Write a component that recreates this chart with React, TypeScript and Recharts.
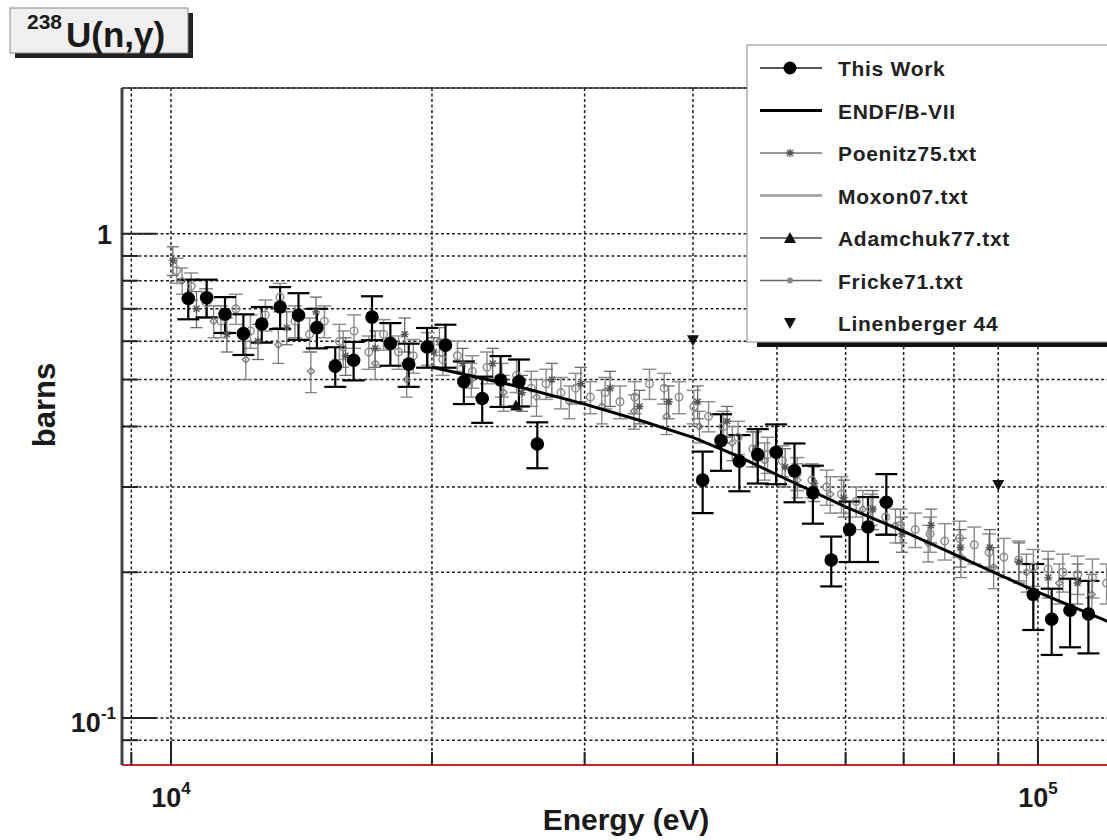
import React from 'react';
import { ScatterChart, Scatter, XAxis, YAxis, CartesianGrid, ErrorBar, ReferenceLine } from 'recharts';

const FONT = '"Liberation Sans", Arial, Helvetica, sans-serif';

const X_TICKS = [9000, 10000, 20000, 30000, 40000, 50000, 60000, 70000, 80000, 90000, 100000];
const Y_TICKS = [0.09, 0.1, 0.2, 0.3, 0.4, 0.5, 0.6, 0.7, 0.8, 0.9, 1];
const X_DOMAIN = [8780, 127700];
const Y_DOMAIN = [0.08, 2];

// This Work
const thisWorkE = [10470, 10994, 11543, 12120, 12726, 13363, 14031, 14733, 15469, 16243, 17055, 17908, 18803, 19743, 20730, 21767, 22855, 23998, 25198, 26458,
  41044, 43096, 45251, 47514, 49889, 52384, 55003, 57753, 60641, 63673, 66856,
  98778, 103717, 108903, 114348];
const thisWorkV = [0.735, 0.738, 0.682, 0.622, 0.651, 0.706, 0.679, 0.64, 0.533, 0.548, 0.673, 0.594, 0.538, 0.584, 0.589, 0.495, 0.457, 0.499, 0.495, 0.368,
  0.31, 0.374, 0.339, 0.35, 0.354, 0.324, 0.292, 0.212, 0.245, 0.248, 0.279,
  0.18, 0.16, 0.167, 0.164];
const thisWorkErr = [0.069, 0.066, 0.058, 0.06, 0.055, 0.07, 0.075, 0.06, 0.05, 0.05, 0.07, 0.06, 0.055, 0.055, 0.06, 0.05, 0.05, 0.06, 0.055, 0.04,
  0.045, 0.05, 0.045, 0.045, 0.05, 0.045, 0.04, 0.025, 0.035, 0.038, 0.04,
  0.028, 0.025, 0.027, 0.028];

// ENDF/B-VII
const endfE = [20000, 25000, 30000, 35000, 40000, 45000, 50000, 60000, 70000, 80000, 90000, 100000, 127000];
const endfV = [0.53, 0.485, 0.445, 0.41, 0.38, 0.348, 0.318, 0.273, 0.243, 0.218, 0.198, 0.182, 0.152];

// Poenitz75
const poenitzE = [10050, 10700, 11600, 12600, 13600, 14700, 15900, 17200, 18600, 20100, 21700, 23500, 25400, 27500, 29700, 32100, 34700, 37500, 40500, 43800, 47300, 51100, 55200, 59700, 64500, 69700, 75300, 81400, 88000, 95100, 102800, 111100];
const poenitzV = [0.88, 0.7, 0.62, 0.6, 0.64, 0.69, 0.56, 0.58, 0.62, 0.57, 0.54, 0.54, 0.47, 0.5, 0.49, 0.48, 0.44, 0.45, 0.45, 0.41, 0.36, 0.33, 0.305, 0.285, 0.27, 0.24, 0.25, 0.225, 0.225, 0.21, 0.195, 0.19];
const poenitzErr = [0.06, 0.06, 0.05, 0.05, 0.05, 0.05, 0.05, 0.05, 0.05, 0.04, 0.04, 0.04, 0.04, 0.04, 0.04, 0.04, 0.035, 0.035, 0.035, 0.03, 0.03, 0.03, 0.025, 0.025, 0.025, 0.02, 0.02, 0.02, 0.02, 0.02, 0.018, 0.018];

// Moxon07
const moxonE = [10150, 10550, 10980, 11420, 11880, 12350, 12850, 13360, 13900, 14450, 15030, 15640, 16260, 16910, 17590, 18300, 19030, 19790, 20580, 21400, 22260, 23150, 24080, 25040, 26040, 27080, 28170, 29290, 30460, 31680, 32950, 34270, 35640, 37060, 38550, 40090, 41690, 43360, 45090, 46900, 48770, 50720, 52750, 54860, 57050, 59340, 61710, 64180, 66740, 69410, 72190, 75080, 78080, 81200, 84450, 87830, 91340, 94990, 98790, 102740, 106850, 111130, 115570, 120000];
const moxonV = [0.84, 0.78, 0.72, 0.66, 0.7, 0.63, 0.68, 0.74, 0.66, 0.62, 0.66, 0.6, 0.63, 0.57, 0.62, 0.57, 0.56, 0.58, 0.55, 0.56, 0.52, 0.53, 0.5, 0.51, 0.48, 0.49, 0.47, 0.48, 0.46, 0.47, 0.45, 0.46, 0.49, 0.48, 0.46, 0.44, 0.42, 0.4, 0.38, 0.36, 0.35, 0.34, 0.32, 0.31, 0.3, 0.29, 0.28, 0.27, 0.26, 0.25, 0.245, 0.24, 0.232, 0.235, 0.228, 0.22, 0.215, 0.212, 0.205, 0.203, 0.2, 0.198, 0.195, 0.19];
const moxonErr = [0.05, 0.05, 0.05, 0.05, 0.05, 0.05, 0.05, 0.05, 0.05, 0.05, 0.05, 0.05, 0.05, 0.045, 0.045, 0.045, 0.045, 0.045, 0.04, 0.04, 0.04, 0.04, 0.04, 0.04, 0.04, 0.035, 0.035, 0.035, 0.035, 0.035, 0.035, 0.035, 0.035, 0.035, 0.035, 0.035, 0.03, 0.03, 0.03, 0.03, 0.03, 0.025, 0.025, 0.025, 0.025, 0.025, 0.02, 0.02, 0.02, 0.02, 0.02, 0.02, 0.02, 0.02, 0.02, 0.02, 0.02, 0.02, 0.018, 0.018, 0.018, 0.018, 0.018, 0.018];

// Fricke71
const frickeE = [10300, 11200, 12200, 13300, 14500, 15800, 17200, 18700, 20400, 22200, 24200, 26400, 28800, 31400, 34200, 37300, 40700, 44400, 48400, 52800, 57600, 62800, 68500, 74700, 81500, 88900, 97000, 105800, 115400];
const frickeV = [0.8, 0.66, 0.55, 0.59, 0.52, 0.58, 0.54, 0.5, 0.6, 0.5, 0.47, 0.46, 0.45, 0.44, 0.43, 0.42, 0.4, 0.37, 0.34, 0.31, 0.29, 0.27, 0.25, 0.23, 0.215, 0.205, 0.2, 0.19, 0.18];
const frickeErr = [0.05, 0.05, 0.05, 0.05, 0.05, 0.05, 0.04, 0.04, 0.04, 0.04, 0.04, 0.04, 0.035, 0.035, 0.035, 0.035, 0.03, 0.03, 0.03, 0.025, 0.025, 0.025, 0.02, 0.02, 0.02, 0.02, 0.018, 0.018, 0.018];

// Adamchuk77
const adamchukE = [25000];
const adamchukV = [0.44];

// Linenberger 44
const linenbergerE = [40000, 90000];
const linenbergerV = [0.603, 0.303];

const legendLabels = ['This Work', 'ENDF/B-VII', 'Poenitz75.txt', 'Moxon07.txt', 'Adamchuk77.txt', 'Fricke71.txt', 'Linenberger 44'];

const build = (e: number[], v: number[], err?: number[]) =>
  e.map((x, i) => ({ e: x, v: v[i], err: err ? err[i] : 0 }));

const thisWork = build(thisWorkE, thisWorkV, thisWorkErr);
const endf = build(endfE, endfV);
const poenitz = build(poenitzE, poenitzV, poenitzErr);
const moxon = build(moxonE, moxonV, moxonErr);
const fricke = build(frickeE, frickeV, frickeErr);
const adamchuk = build(adamchukE, adamchukV);
const linenberger = build(linenbergerE, linenbergerV);

const BlackDot = (p: any) => <circle cx={p.cx} cy={p.cy} r={6.8} fill="#000" />;
const OpenDot = (p: any) => <circle cx={p.cx} cy={p.cy} r={3.8} fill="none" stroke="#8a8a8a" strokeWidth={1.4} />;
const Star = (p: any) => {
  const { cx, cy } = p;
  return <path d={`M${cx - 4},${cy}H${cx + 4}M${cx},${cy - 4}V${cy + 4}M${cx - 3},${cy - 3}L${cx + 3},${cy + 3}M${cx - 3},${cy + 3}L${cx + 3},${cy - 3}`} stroke="#555" strokeWidth={1.4} fill="none" />;
};
const SmallDiamond = (p: any) => {
  const { cx, cy } = p;
  return <path d={`M${cx},${cy - 3.5}L${cx + 3.5},${cy}L${cx},${cy + 3.5}L${cx - 3.5},${cy}Z`} fill="none" stroke="#7a7a7a" strokeWidth={1.3} />;
};
const TriUp = (p: any) => {
  const { cx, cy } = p;
  return <path d={`M${cx},${cy - 7}L${cx + 6},${cy + 4}L${cx - 6},${cy + 4}Z`} fill="#111" />;
};
const TriDown = (p: any) => {
  const { cx, cy } = p;
  return <path d={`M${cx - 6},${cy - 5}L${cx + 6},${cy - 5}L${cx},${cy + 6}Z`} fill="#111" />;
};
const NoShape = () => <g />;

const XTick = (props: any) => {
  const { x, y, payload } = props;
  const val = payload.value;
  const major = val === 10000 || val === 100000;
  const exp = Math.round(Math.log10(val));
  return (
    <g>
      <line x1={x} x2={x} y1={y} y2={y - (major ? 24 : 13)} stroke="#222" strokeWidth={2} />
      {major && (
        <text x={x} y={y + 42} textAnchor="middle" fontFamily={FONT} fontWeight={700} fontSize={27} fill="#1a1a1a">
          10<tspan dy={-13} fontSize={17}>{exp}</tspan>
        </text>
      )}
    </g>
  );
};

const YTick = (props: any) => {
  const { x, y, payload } = props;
  const val = payload.value;
  const major = val === 1 || val === 0.1;
  return (
    <g>
      <line x1={x} x2={x + (major ? 34 : 16)} y1={y} y2={y} stroke="#222" strokeWidth={2} />
      {val === 1 && (
        <text x={x - 10} y={y + 10} textAnchor="end" fontFamily={FONT} fontWeight={700} fontSize={27} fill="#1a1a1a">1</text>
      )}
      {val === 0.1 && (
        <text x={x - 6} y={y + 14} textAnchor="end" fontFamily={FONT} fontWeight={700} fontSize={27} fill="#1a1a1a">
          10<tspan dy={-13} fontSize={17}>-1</tspan>
        </text>
      )}
    </g>
  );
};

const LegendSymbol = ({ i }: { i: number }) => {
  const cy = 0;
  switch (i) {
    case 0:
      return (<g><line x1={13} x2={75} y1={cy} y2={cy} stroke="#555" strokeWidth={2} /><circle cx={43} cy={cy} r={6.5} fill="#000" /></g>);
    case 1:
      return <line x1={13} x2={75} y1={cy} y2={cy} stroke="#000" strokeWidth={3} />;
    case 2:
      return (<g><line x1={13} x2={75} y1={cy} y2={cy} stroke="#333" strokeWidth={1.2} /><Star cx={43} cy={cy} /></g>);
    case 3:
      return <line x1={13} x2={75} y1={cy} y2={cy} stroke="#aaa" strokeWidth={3} />;
    case 4:
      return (<g><line x1={13} x2={75} y1={cy} y2={cy} stroke="#777" strokeWidth={2} /><TriUp cx={43} cy={cy + 1} /></g>);
    case 5:
      return (<g><line x1={13} x2={75} y1={cy} y2={cy} stroke="#666" strokeWidth={1.4} /><circle cx={43} cy={cy} r={3} fill="#888" /></g>);
    default:
      return <TriDown cx={43} cy={cy} />;
  }
};

export default function App() {
  return (
    <div style={{ position: 'absolute', left: 0, top: 0, width: 1107, height: 840, overflow: 'hidden', background: '#fff' }}>
      <ScatterChart width={1130} height={840} margin={{ top: 88, right: 0, bottom: 0, left: 0 }}>
        <CartesianGrid stroke="#1e1e1e" strokeWidth={1.5} strokeDasharray="3 2.5" />
        <XAxis
          type="number"
          dataKey="e"
          scale="log"
          domain={X_DOMAIN}
          allowDataOverflow
          ticks={X_TICKS}
          interval={0}
          height={75}
          tickSize={0}
          tickMargin={0}
          tick={<XTick />}
          axisLine={{ stroke: '#c62828', strokeWidth: 2 }}
        />
        <YAxis
          type="number"
          dataKey="v"
          scale="log"
          domain={Y_DOMAIN}
          allowDataOverflow
          ticks={Y_TICKS}
          interval={0}
          width={122}
          tickSize={0}
          tickMargin={0}
          tick={<YTick />}
          axisLine={{ stroke: '#444', strokeWidth: 3 }}
        />
        <ReferenceLine y={2} stroke="#333" strokeWidth={1.5} />
        <Scatter data={moxon} shape={OpenDot} isAnimationActive={false}>
          <ErrorBar dataKey="err" direction="y" width={7} stroke="#8f8f8f" strokeWidth={1.5} />
        </Scatter>
        <Scatter data={fricke} shape={SmallDiamond} isAnimationActive={false}>
          <ErrorBar dataKey="err" direction="y" width={6} stroke="#808080" strokeWidth={1.3} />
        </Scatter>
        <Scatter data={poenitz} shape={Star} isAnimationActive={false}>
          <ErrorBar dataKey="err" direction="y" width={6} stroke="#6a6a6a" strokeWidth={1.3} />
        </Scatter>
        <Scatter data={endf} shape={NoShape} line={{ stroke: '#000', strokeWidth: 3 }} lineType="joint" isAnimationActive={false} />
        <Scatter data={thisWork} shape={BlackDot} isAnimationActive={false}>
          <ErrorBar dataKey="err" direction="y" width={11} stroke="#000" strokeWidth={2.2} />
        </Scatter>
        <Scatter data={adamchuk} shape={TriUp} isAnimationActive={false} />
        <Scatter data={linenberger} shape={TriDown} isAnimationActive={false} />
      </ScatterChart>

      <svg width={1107} height={840} style={{ position: 'absolute', left: 0, top: 0, pointerEvents: 'none' }}>
        {/* title box */}
        <rect x={15} y={13} width={178} height={45} fill="#222" />
        <rect x={10} y={8} width={178} height={45} fill="#efefef" stroke="#888" strokeWidth={1} />
        <text x={27} y={29} fontFamily={FONT} fontWeight={700} fontSize={21} fill="#1a1a1a">238</text>
        <text x={66} y={47} fontFamily={FONT} fontWeight={700} fontSize={35} fill="#1a1a1a">U(n,γ)</text>

        {/* legend */}
        <rect x={757} y={50} width={400} height={297} fill="#111" />
        <rect x={747} y={45} width={400} height={297} fill="#fff" stroke="#999" strokeWidth={1.2} />
        {legendLabels.map((lab, i) => {
          const cy = 45 + 23 + i * 42.5;
          return (
            <g key={lab} transform={`translate(747, ${cy})`}>
              <LegendSymbol i={i} />
              <text x={91} y={8} fontFamily={FONT} fontWeight={700} fontSize={21} letterSpacing={0.7} fill="#222">{lab}</text>
            </g>
          );
        })}

        {/* axis titles */}
        <text x={626} y={830} textAnchor="middle" fontFamily={FONT} fontWeight={700} fontSize={30} fill="#1a1a1a">Energy (eV)</text>
        <text x={0} y={0} transform="translate(55, 405) rotate(-90)" textAnchor="middle" fontFamily={FONT} fontWeight={700} fontSize={31} fill="#1a1a1a">barns</text>
      </svg>
    </div>
  );
}
